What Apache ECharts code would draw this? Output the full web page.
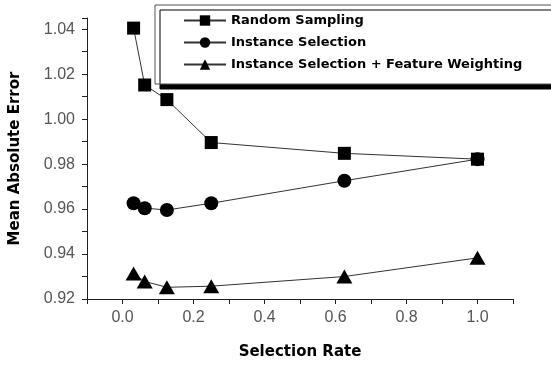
<!DOCTYPE html>
<html>
<head>
<meta charset="utf-8">
<script src="https://cdn.jsdelivr.net/npm/echarts@6/dist/echarts.min.js"></script>
<style>
  html, body { margin: 0; padding: 0; background: #fff; }
  #chart { width: 551px; height: 365px; }
</style>
</head>
<body>
<div id="chart"></div>
<script>
// selection rates (x) shared by all three curves
var rates = [0.03125, 0.0625, 0.125, 0.25, 0.625, 1.0]
var seriesNames = ['Random Sampling', 'Instance Selection', 'Instance Selection + Feature Weighting']
var randomSampling = [1.0405, 1.0152, 1.0087, 0.9896, 0.9848, 0.9822]
var instanceSelection = [0.9626, 0.9604, 0.9596, 0.9626, 0.9726, 0.9822]
var isFeatureWeighting = [0.9313, 0.9278, 0.9252, 0.9257, 0.9300, 0.9383]

function pairs(ys) {
  return rates.map(function (x, i) { return [x, ys[i]] })
}

var chart = echarts.init(document.getElementById('chart'), null, { renderer: 'canvas' })

var lineStyle = { color: '#333', width: 1 }

var option = {
  backgroundColor: '#fff',
  animation: false,
  grid: { left: 85, right: 38, top: 18, bottom: 60 },
  legend: {
    left: 155,
    top: 5,
    orient: 'vertical',
    padding: [9, 80, 13, 28],
    itemGap: 9,
    itemWidth: 42,
    itemHeight: 13,
    backgroundColor: '#fff',
    borderColor: '#555',
    borderWidth: 1,
    borderRadius: 0,
    shadowColor: '#000',
    shadowBlur: 0,
    shadowOffsetX: 5,
    shadowOffsetY: 5,
    textStyle: {
      fontFamily: 'DejaVu Sans',
      fontWeight: 'bold',
      fontSize: 13,
      color: '#000'
    },
    data: seriesNames
  },
  xAxis: {
    type: 'value',
    min: -0.1,
    max: 1.1,
    interval: 0.1,
    name: 'Selection Rate',
    nameLocation: 'middle',
    nameGap: 46,
    nameTextStyle: { fontFamily: 'DejaVu Sans', fontWeight: 'bold', fontSize: 15, color: '#000' },
    axisLine: { onZero: false, lineStyle: { color: '#222', width: 1 } },
    axisTick: { show: true, inside: false, length: 5, lineStyle: { color: '#222' } },
    splitLine: { show: false },
    axisLabel: {
      margin: 11,
      fontFamily: 'Liberation Sans',
      fontSize: 16,
      color: '#555',
      showMinLabel: true,
      showMaxLabel: true,
      formatter: function (v) {
        var k = Math.round(v * 10)
        if (Math.abs(v * 10 - k) > 1e-6 || k % 2 !== 0) return ''
        return v.toFixed(1)
      }
    }
  },
  yAxis: {
    type: 'value',
    min: 0.92,
    max: 1.045,
    interval: 0.01,
    name: 'Mean Absolute Error',
    nameLocation: 'middle',
    nameGap: 64,
    nameTextStyle: { fontFamily: 'DejaVu Sans', fontWeight: 'bold', fontSize: 15, color: '#000' },
    axisLine: { show: true, onZero: false, lineStyle: { color: '#222', width: 1 } },
    axisTick: { show: true, inside: false, length: 5, lineStyle: { color: '#222' } },
    splitLine: { show: false },
    axisLabel: {
      margin: 12,
      fontFamily: 'Liberation Sans',
      fontSize: 16,
      color: '#555',
      formatter: function (v) {
        var k = Math.round(v * 100)
        if (Math.abs(v * 100 - k) > 1e-6 || k % 2 !== 0) return ''
        return v.toFixed(2)
      }
    }
  },
  series: [
    {
      name: seriesNames[0],
      type: 'line',
      data: pairs(randomSampling),
      symbol: 'rect',
      symbolSize: 13,
      itemStyle: { color: '#000' },
      lineStyle: lineStyle,
      z: 4
    },
    {
      name: seriesNames[1],
      type: 'line',
      data: pairs(instanceSelection),
      symbol: 'circle',
      symbolSize: 14,
      itemStyle: { color: '#000' },
      lineStyle: lineStyle,
      z: 3
    },
    {
      name: seriesNames[2],
      type: 'line',
      data: pairs(isFeatureWeighting),
      symbol: 'triangle',
      symbolSize: [16, 14],
      itemStyle: { color: '#000' },
      lineStyle: lineStyle,
      z: 3
    }
  ]
}

chart.setOption(option)
</script>
</body>
</html>
